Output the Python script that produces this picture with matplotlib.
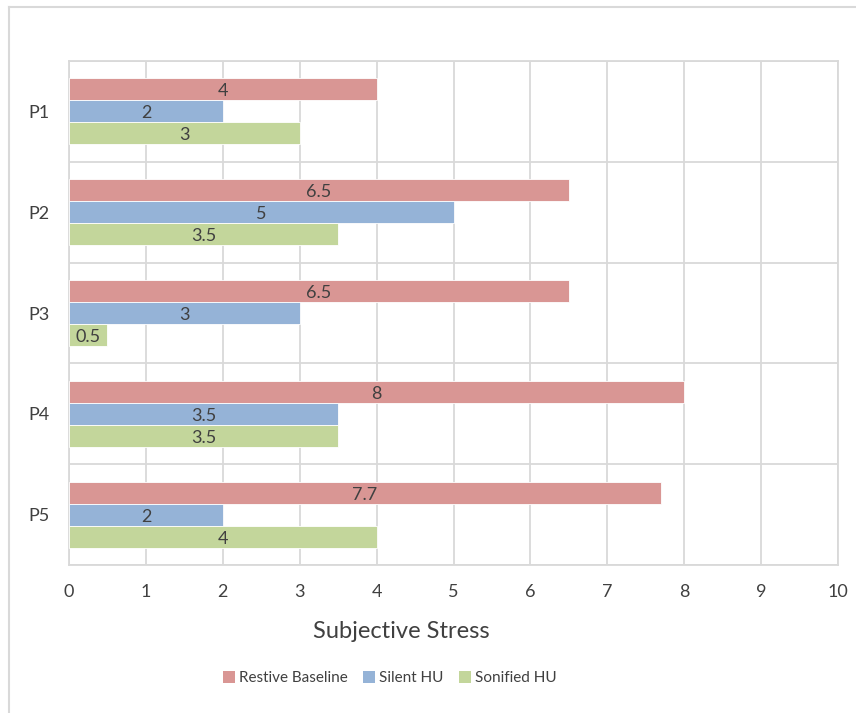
import matplotlib
matplotlib.use("Agg")
import matplotlib.pyplot as plt
from matplotlib.lines import Line2D
from matplotlib.patches import Patch
import numpy as np

plt.rcParams['font.family'] = ['Lato', 'DejaVu Sans']

participants = ["P1", "P2", "P3", "P4", "P5"]
series_names = ["Restive Baseline", "Silent HU", "Sonified HU"]
restive_baseline = [4, 6.5, 6.5, 8, 7.7]
silent_hu = [2, 5, 3, 3.5, 2]
sonified_hu = [3, 3.5, 0.5, 3.5, 4]
x_ticks = [0, 1, 2, 3, 4, 5, 6, 7, 8, 9, 10]
x_label = "Subjective Stress"

colors = ["#D99694", "#95B3D7", "#C3D69B"]
text_color = "#404040"
grid_color = "#D9D9D9"

fig = plt.figure(figsize=(8.56, 7.13), dpi=100)
ax = fig.add_axes([69 / 856, 1 - 565 / 713, (838 - 69) / 856, (565 - 61) / 713])

y = np.arange(len(participants))
h = 0.218
offsets = [-h, 0, h]
for vals, off, col, name in zip([restive_baseline, silent_hu, sonified_hu], offsets, colors, series_names):
    bars = ax.barh(y + off, vals, height=h, color=col, edgecolor="white", linewidth=0.6, label=name, zorder=3)
    for b, v in zip(bars, vals):
        ax.text(v / 2, b.get_y() + b.get_height() / 2 + 0.02, f"{v:g}",
                ha="center", va="center", fontsize=13, color=text_color, zorder=4)

ax.set_xlim(0, 10)
ax.set_ylim(len(participants) - 0.5, -0.5)
ax.set_xticks(x_ticks)
ax.set_xticklabels([str(t) for t in x_ticks])
ax.set_yticks(y)
ax.set_yticklabels(participants)
ax.set_yticks(np.arange(-0.5, len(participants), 1.0), minor=True)

ax.grid(axis="x", which="major", color=grid_color, linewidth=1.3, zorder=0)
ax.grid(axis="y", which="minor", color=grid_color, linewidth=1.3, zorder=0)
ax.grid(axis="y", which="major", visible=False)
for s in ax.spines.values():
    s.set_color(grid_color)
    s.set_linewidth(1.3)
ax.tick_params(axis="both", which="both", length=0, labelsize=13, labelcolor=text_color)
ax.tick_params(axis="x", pad=14)
ax.tick_params(axis="y", pad=14)

fig.text(401 / 856, 1 - 632 / 713, x_label, ha="center", va="center", fontsize=17, color=text_color)

handles = [Patch(facecolor=c, edgecolor="none") for c in colors]
fig.legend(handles, series_names, loc="center", bbox_to_anchor=(390 / 856, 1 - 678 / 713),
           ncol=3, frameon=False, fontsize=11, labelcolor=text_color,
           handlelength=0.75, handleheight=0.9, handletextpad=0.3, columnspacing=1.0)

# chart area frame
fig.add_artist(Line2D([8.5 / 856, 8.5 / 856], [1 - 7 / 713, 0], transform=fig.transFigure, color=grid_color, linewidth=1.5))
fig.add_artist(Line2D([8.5 / 856, 1], [1 - 7 / 713, 1 - 7 / 713], transform=fig.transFigure, color=grid_color, linewidth=1.5))

fig.savefig("out.png", dpi=100, facecolor="white")
